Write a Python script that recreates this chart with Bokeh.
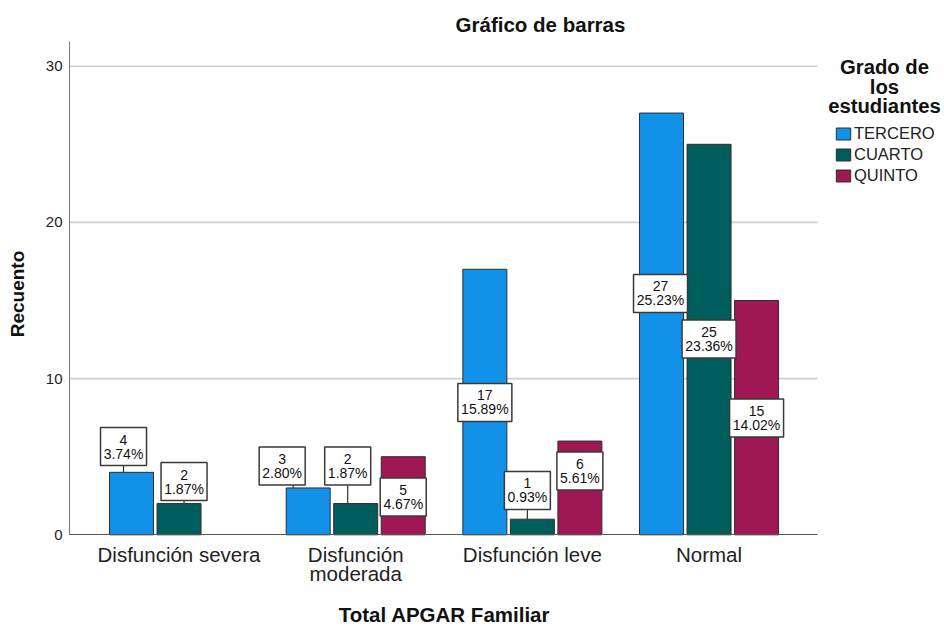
import math
from bokeh.plotting import figure
from bokeh.models import ColumnDataSource, FixedTicker, Legend, LegendItem, Label, Range1d
from bokeh.embed import file_html
from bokeh.resources import INLINE
from bokeh.core.properties import value

# ---------------- data ----------------
categories = ["Disfunción severa", "Disfunción\nmoderada", "Disfunción leve", "Normal"]
series = ["TERCERO", "CUARTO", "QUINTO"]
tercero = [4, 3, 17, 27]
cuarto = [2, 2, 1, 25]
quinto = [0, 5, 6, 15]
y_ticks = [0, 10, 20, 30]
colors = ["#1192e8", "#005d5d", "#9f1853"]

# label placement (SPSS auto-placement): box centre in count units, horizontal shift in px
label_y = {
    "TERCERO": [5.65, 4.40, 8.47, 15.45],
    "CUARTO": [3.41, 4.40, 2.84, 12.54],
    "QUINTO": [0, 2.42, 4.08, 7.48],
}
label_dx = {
    "TERCERO": [-8, -26, 0, -1],
    "CUARTO": [5, -8, -5, 0],
    "QUINTO": [0, 0, 0, 0],
}

counts = {"TERCERO": tercero, "CUARTO": cuarto, "QUINTO": quinto}
total = sum(tercero) + sum(cuarto) + sum(quinto)

# ---------------- geometry ----------------
W, H = 944, 627
PX_X = 176.67          # px per category
PX_Y = 15.62           # px per count
AX_LEFT_PX = 69        # value axis position (px from left)
AX_BASE_PX = 534.3     # baseline position (px from top)
XL = -0.62             # left end of plotting area (category units)
XG = 3.614             # right end of plotting area
AX_TOP = 31.58         # top of value axis
X0 = XL - AX_LEFT_PX / PX_X
X1 = X0 + W / PX_X
Y0 = -(H - AX_BASE_PX) / PX_Y
Y1 = Y0 + H / PX_Y
dodge = [-0.269, 0.0, 0.269]
bar_w = 0.249
FONT = "Liberation Sans"

p = figure(width=W, height=H, x_range=Range1d(X0, X1), y_range=Range1d(Y0, Y1),
           output_backend="svg", toolbar_location=None,
           min_border_left=0, min_border_right=0, min_border_top=0, min_border_bottom=0)
p.outline_line_color = None
p.background_fill_color = "white"
p.border_fill_color = "white"
p.xgrid.visible = False
p.ygrid.visible = False

# grid lines limited to the plotting area
gy = [t for t in y_ticks if t > 0]
p.segment(x0=[XL] * len(gy), y0=gy, x1=[XG] * len(gy), y1=gy, line_color="#d0d0d0", line_width=1.6)

legend_items = []
lead_x0, lead_y0, lead_x1, lead_y1 = [], [], [], []
bx, by, bw, top_txt, bot_txt = [], [], [], [], []

for k, s in enumerate(series):
    vals = counts[s]
    xs = [i + dodge[k] for i, v in enumerate(vals) if v > 0]
    tops = [v for v in vals if v > 0]
    src = ColumnDataSource(dict(x=xs, top=tops))
    r = p.vbar(x="x", top="top", width=bar_w, bottom=0, source=src,
               fill_color=colors[k], line_color="#2e2e2e", line_width=1)
    legend_items.append(LegendItem(label=s, renderers=[r]))
    for i, v in enumerate(vals):
        if v <= 0:
            continue
        xb = i + dodge[k]
        cx = xb + label_dx[s][i] / PX_X
        cy = label_y[s][i]
        pct = "%.2f%%" % (100.0 * v / total)
        w = 8 * len(pct) + 6
        bx.append(cx); by.append(cy); bw.append(w)
        top_txt.append(str(v)); bot_txt.append(pct)
        box_bottom = cy - 19 / PX_Y
        if box_bottom > v:
            lx = min(max(cx, xb - bar_w / 2 + 7 / PX_X), xb + bar_w / 2 - 7 / PX_X)
            lead_x0.append(lx); lead_y0.append(v)
            lead_x1.append(lx); lead_y1.append(box_bottom)

p.segment(x0=lead_x0, y0=lead_y0, x1=lead_x1, y1=lead_y1, line_color="#333333", line_width=1.2)
lsrc = ColumnDataSource(dict(x=bx, y=by, w=bw, t=top_txt, b=bot_txt))
p.rect(x="x", y="y", width="w", height=38, width_units="screen", height_units="screen",
       source=lsrc, fill_color="white", line_color="#3a3a3a", line_width=1.5)
p.text(x="x", y="y", text="t", source=lsrc, y_offset=-7, text_align="center", text_baseline="middle",
       text_font=value(FONT), text_font_size="14px", text_color="#111111")
p.text(x="x", y="y", text="b", source=lsrc, y_offset=7, text_align="center", text_baseline="middle",
       text_font=value(FONT), text_font_size="14px", text_color="#111111")

# ---------------- axes (drawn at fixed positions inside the canvas) ----------------
xa = p.xaxis[0]
xa.fixed_location = 0
xa.bounds = (XL, XG)
xa.ticker = FixedTicker(ticks=list(range(len(categories))))
xa.major_label_overrides = {i: c for i, c in enumerate(categories)}
xa.major_tick_line_color = None
xa.minor_tick_line_color = None
xa.major_tick_out = 0
xa.major_tick_in = 0
xa.axis_line_color = "#555555"
xa.major_label_text_font = FONT
xa.major_label_text_font_size = "20.5px"
xa.major_label_text_line_height = 0.85
xa.major_label_text_color = "#222222"
xa.major_label_standoff = 8

ya = p.yaxis[0]
ya.fixed_location = XL
ya.bounds = (0, AX_TOP)
ya.ticker = FixedTicker(ticks=y_ticks)
ya.major_tick_line_color = None
ya.minor_tick_line_color = None
ya.major_tick_out = 0
ya.major_tick_in = 0
ya.axis_line_color = "#777777"
ya.major_label_text_font = FONT
ya.major_label_text_font_size = "15px"
ya.major_label_text_color = "#222222"
ya.major_label_standoff = 7

# ---------------- titles (screen px from the bottom-left corner) ----------------
def lab(text, x, y, size, angle=0.0, color="#111111", style="bold"):
    p.add_layout(Label(x=x, y=y, x_units="screen", y_units="screen", text=text, angle=angle,
                       text_align="center", text_baseline="middle", text_font=FONT,
                       text_font_size=size, text_font_style=style, text_color=color))

lab("Gráfico de barras", 540, H - 23.5, "20.5px")
lab("Total APGAR Familiar", 444, H - 613.5, "20.5px")
lab("Recuento", 16.5, H - 293.5, "19px", angle=math.pi / 2)

# ---------------- legend ----------------
legend = Legend(items=legend_items, location=(834, H - 185), padding=0, margin=0,
                border_line_color=None, background_fill_alpha=0,
                glyph_width=18, glyph_height=15, label_height=15, label_standoff=2, spacing=2,
                label_text_font=FONT, label_text_font_size="16.5px", label_text_color="#222222")
p.add_layout(legend, "center")

for txt, yy in zip(["Grado de", "los", "estudiantes"], [66.2, 86.7, 105.2]):
    lab(txt, 884, H - yy, "20.3px")

open("out.html", "w").write(file_html(p, INLINE))
